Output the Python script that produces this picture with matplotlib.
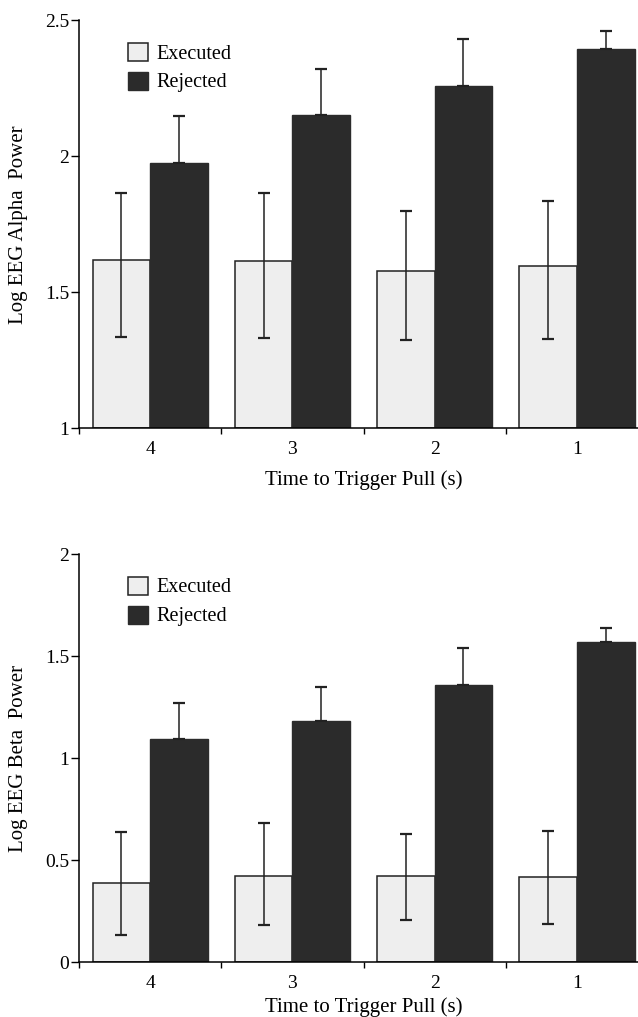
import matplotlib.pyplot as plt
import numpy as np

plt.rcParams['font.family'] = ['Liberation Serif', 'DejaVu Serif']

groups = ['4', '3', '2', '1']

# Alpha panel
alpha_exec = [1.618, 1.616, 1.577, 1.596]
alpha_exec_hi = [1.864, 1.864, 1.798, 1.834]
alpha_exec_lo = [1.335, 1.330, 1.324, 1.327]
alpha_rej = [1.974, 2.151, 2.257, 2.393]
alpha_rej_hi = [2.147, 2.320, 2.430, 2.460]

# Beta panel
beta_exec = [0.387, 0.420, 0.420, 0.415]
beta_exec_hi = [0.637, 0.680, 0.630, 0.645]
beta_exec_lo = [0.132, 0.180, 0.205, 0.185]
beta_rej = [1.093, 1.180, 1.360, 1.570]
beta_rej_hi = [1.270, 1.350, 1.540, 1.640]

W = 0.405
EXEC_COLOR = '#eeeeee'
REJ_COLOR = '#2b2b2b'


def draw_panel(ax, ex, ex_hi, ex_lo, rj, rj_hi, ylim, yticks, yticklabels, ylabel, xpad):
    x = np.arange(len(groups))
    ex = np.array(ex)
    rj = np.array(rj)
    ax.bar(x - W / 2, ex - ylim[0], width=W, bottom=ylim[0], color=EXEC_COLOR,
           edgecolor='#222222', linewidth=1.1, label='Executed')
    ax.bar(x + W / 2, rj - ylim[0], width=W, bottom=ylim[0], color=REJ_COLOR,
           edgecolor='#2b2b2b', linewidth=1.0, label='Rejected')
    ax.errorbar(x - W / 2, ex, yerr=[ex - np.array(ex_lo), np.array(ex_hi) - ex],
                fmt='none', ecolor='#222222', elinewidth=1.1, capsize=4.5, capthick=1.6)
    ax.errorbar(x + W / 2, rj, yerr=[np.zeros(len(rj)), np.array(rj_hi) - rj],
                fmt='none', ecolor='#222222', elinewidth=1.1, capsize=4.5, capthick=1.6)

    ax.set_xlim(-0.5, 3.5)
    ax.set_ylim(*ylim)
    ax.spines['top'].set_visible(False)
    ax.spines['right'].set_visible(False)
    ax.spines['left'].set_linewidth(1.1)
    ax.spines['bottom'].set_linewidth(1.1)

    ax.set_xticks(x)
    ax.set_xticklabels(groups, fontsize=14)
    ax.set_xticks([-0.5, 0.5, 1.5, 2.5], minor=True)
    ax.tick_params(axis='x', which='major', length=0, pad=9)
    ax.tick_params(axis='x', which='minor', length=4, width=1.0, direction='out')
    ax.set_yticks(yticks)
    ax.set_yticklabels(yticklabels, fontsize=14)
    ax.tick_params(axis='y', length=6, width=1.0, direction='out', pad=1)

    ax.set_xlabel('Time to Trigger Pull (s)', fontsize=15, labelpad=xpad)
    ax.set_ylabel(ylabel, fontsize=15, labelpad=12)

    ax.legend(loc='upper left', bbox_to_anchor=(0.065, 0.975), frameon=False,
              fontsize=14.5, handlelength=1.0, handleheight=1.0,
              handletextpad=0.4, labelspacing=0.4, borderaxespad=0.2)


fig = plt.figure(figsize=(6.38, 10.17), dpi=100)
ax1 = fig.add_axes([0.1238, 0.579, 0.892, 0.401])
ax2 = fig.add_axes([0.1238, 0.054, 0.892, 0.401])

draw_panel(ax1, alpha_exec, alpha_exec_hi, alpha_exec_lo, alpha_rej, alpha_rej_hi,
           (1, 2.5), [1, 1.5, 2, 2.5], ['1', '1.5', '2', '2.5'], 'Log EEG Alpha  Power', 9)
draw_panel(ax2, beta_exec, beta_exec_hi, beta_exec_lo, beta_rej, beta_rej_hi,
           (0, 2), [0, 0.5, 1, 1.5, 2], ['0', '0.5', '1', '1.5', '2'], 'Log EEG Beta  Power', 4)

plt.savefig('out.png', dpi=100)
